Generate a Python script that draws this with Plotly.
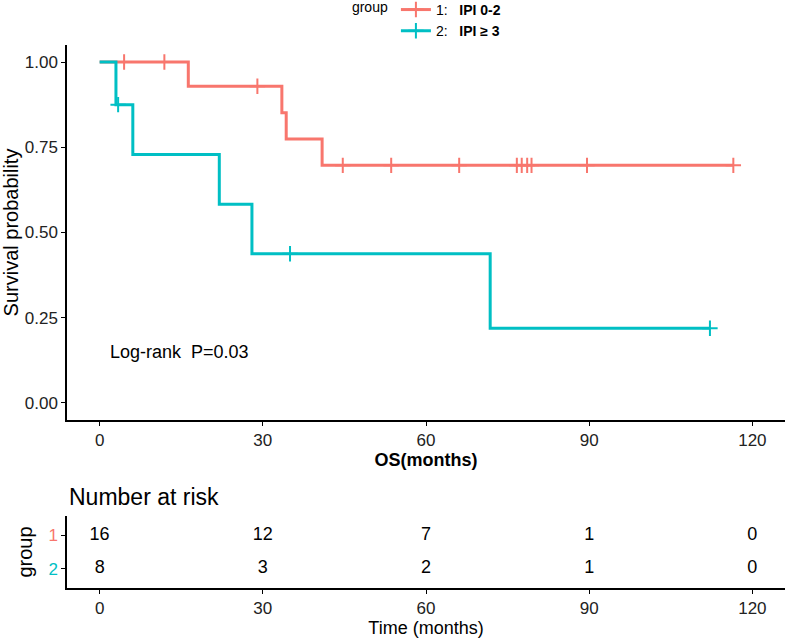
import plotly.graph_objects as go

# ---- data ----
group_names = ["1:\u00a0\u00a0\u00a0<b>IPI 0-2</b>", "2:\u00a0\u00a0\u00a0<b>IPI \u2265 3</b>"]
group_colors = ["#F8766D", "#00BFC4"]

# Kaplan-Meier step curves: times where survival changes and survival after the change
g1_times = [0, 16.3, 33.5, 34.3, 40.9, 116.5]
g1_surv = [1.0, 0.929, 0.851, 0.774, 0.697, 0.697]
g1_censor = [4.5, 11.9, 29.0, 44.7, 53.6, 66.1, 76.7, 77.6, 78.6, 79.4, 89.6, 116.5]

g2_times = [0, 3.0, 6.1, 22.0, 28.0, 71.8, 112.2]
g2_surv = [1.0, 0.875, 0.729, 0.583, 0.4375, 0.219, 0.219]
g2_censor = [3.4, 35.0, 112.2]

risk_times = [0, 30, 60, 90, 120]
risk_g1 = [16, 12, 7, 1, 0]
risk_g2 = [8, 3, 2, 1, 0]

x_ticks = [0, 30, 60, 90, 120]
y_ticks = [0, 0.25, 0.5, 0.75, 1.0]


def surv_at(times, surv, t):
    s = surv[0]
    for ti, si in zip(times, surv):
        if ti <= t:
            s = si
    return s


FONT = "Liberation Sans, Arial, sans-serif"
fig = go.Figure()

curves = [(g1_times, g1_surv, g1_censor), (g2_times, g2_surv, g2_censor)]
for i, (t, s, c) in enumerate(curves):
    col = group_colors[i]
    fig.add_trace(go.Scatter(
        x=t, y=s, mode="lines", line=dict(color=col, width=3, shape="hv"),
        showlegend=False, hoverinfo="skip", xaxis="x", yaxis="y"))
    fig.add_trace(go.Scatter(
        x=c, y=[surv_at(t, s, ci) for ci in c], mode="markers",
        marker=dict(symbol="cross-thin", size=11, line=dict(color=col, width=2)),
        showlegend=False, hoverinfo="skip", xaxis="x", yaxis="y"))
    # legend entry
    fig.add_trace(go.Scatter(
        x=[None], y=[None], mode="lines+markers", name=group_names[i],
        line=dict(color=col, width=3),
        marker=dict(symbol="cross-thin", size=11, line=dict(color=col, width=2)),
        xaxis="x", yaxis="y"))

# risk table
for vals, yv in [(risk_g1, 2), (risk_g2, 1)]:
    fig.add_trace(go.Scatter(
        x=risk_times, y=[yv] * len(risk_times), mode="text",
        text=[str(v) for v in vals], textfont=dict(size=18, color="black", family=FONT),
        showlegend=False, hoverinfo="skip", xaxis="x2", yaxis="y2"))

axis_common = dict(
    showline=True, linecolor="black", linewidth=1.5, ticks="outside",
    ticklen=4, tickwidth=1.2, tickcolor="black", showgrid=False, zeroline=False,
    tickfont=dict(size=17, color="#222", family=FONT), automargin=False,
)

W, H = 787, 640
ML, MR, MT, MB = 67, 2, 45, 52
ph = H - MT - MB

fig.update_layout(
    width=W, height=H,
    margin=dict(l=ML, r=MR, t=MT, b=MB, autoexpand=False),
    paper_bgcolor="white", plot_bgcolor="white",
    font=dict(family=FONT, color="black"),
    xaxis=dict(domain=[0, 1], range=[-6, 126], tickvals=x_ticks, anchor="y",
               title=dict(text="<b>OS(months)</b>", font=dict(size=18), standoff=4),
               **axis_common),
    yaxis=dict(domain=[0.3094, 1], range=[-0.05, 1.05], tickvals=y_ticks,
               ticktext=[f"{v:.2f}" for v in y_ticks], anchor="x",
               title=dict(text="Survival probability", font=dict(size=20), standoff=4),
               **axis_common),
    xaxis2=dict(domain=[0, 1], range=[-6, 126], tickvals=x_ticks, anchor="y2",
                title=dict(text="Time (months)", font=dict(size=18), standoff=4),
                **axis_common),
    yaxis2=dict(domain=[0, 0.1326], range=[0.42, 2.58], tickvals=[2, 1],
                ticktext=[f"<span style='color:{group_colors[0]}'>1</span>",
                          f"<span style='color:{group_colors[1]}'>2</span>"],
                anchor="x2",
                title=dict(text="group", font=dict(size=20), standoff=10),
                **axis_common),
    legend=dict(
        x=0.394, y=1.094, xanchor="left", yanchor="top",
        orientation="v", title=dict(text="group", side="left", font=dict(size=14)),
        font=dict(size=14), itemwidth=30, tracegroupgap=0,
        bgcolor="rgba(0,0,0,0)",
    ),
    annotations=[
        dict(text="Log-rank  P=0.03", x=1.5, y=0.15, xref="x", yref="y",
             xanchor="left", yanchor="middle", showarrow=False,
             font=dict(size=18, color="black")),
        dict(text="Number at risk", x=0, y=(H - MB - 497) / ph,
             xref="paper", yref="paper",
             xanchor="left", yanchor="middle", showarrow=False,
             font=dict(size=23, color="black")),
    ],
)

# remove the browser's default 8px page margin so the figure fills the window
fig.write_html("out.html", config={"displayModeBar": False},
               post_script="document.body.style.margin='0';")
